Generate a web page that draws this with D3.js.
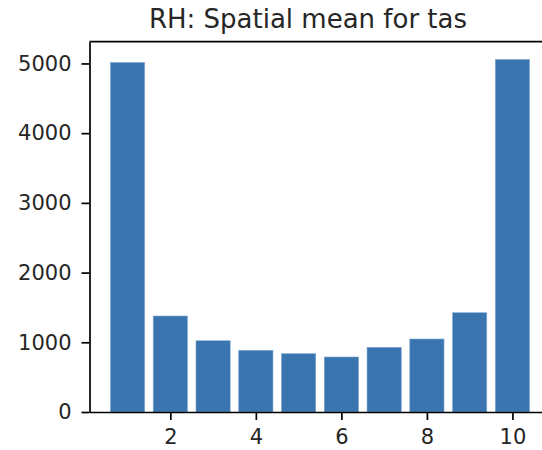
<!DOCTYPE html>
<html>
<head>
<meta charset="utf-8">
<script src="https://cdn.jsdelivr.net/npm/d3@7"></script>
<style>
  html, body { margin: 0; padding: 0; background: #fff; }
  svg { display: block; }
  text { font-family: "DejaVu Sans", sans-serif; fill: #262626; }
</style>
</head>
<body>
<svg id="chart" width="542" height="450"></svg>
<script>
const categories = [1, 2, 3, 4, 5, 6, 7, 8, 9, 10];
const values = [5014, 1377, 1022, 885, 836, 789, 928, 1047, 1424, 5057];
const xTicks = [2, 4, 6, 8, 10];
const yTicks = [0, 1000, 2000, 3000, 4000, 5000];
const title = "RH: Spatial mean for tas";

const svg = d3.select("#chart");
const plotLeft = 89.5, plotRight = 550.5, plotTop = 41.7, plotBottom = 412;

const x = d3.scaleLinear().domain([0.11, 10.89]).range([plotLeft, plotRight]);
const y = d3.scaleLinear().domain([0, 5312]).range([plotBottom, plotTop]);
const barW = x(0.8) - x(0);

svg.append("g").selectAll("rect")
  .data(categories)
  .join("rect")
  .attr("x", (d) => x(d - 0.4))
  .attr("width", barW)
  .attr("y", (d, i) => y(values[i]))
  .attr("height", (d, i) => y(0) - y(values[i]))
  .attr("fill", "#3a75b0")
  .attr("stroke", "#7fa6d2")
  .attr("stroke-width", 0.6);

// frame
const frame = svg.append("g").attr("stroke", "#000").attr("stroke-width", 1.7).attr("fill", "none");
frame.append("line").attr("x1", plotLeft).attr("x2", plotRight).attr("y1", plotTop).attr("y2", plotTop);
frame.append("line").attr("x1", plotRight).attr("x2", plotRight).attr("y1", plotTop).attr("y2", plotBottom);

const yAxis = svg.append("g")
  .attr("transform", `translate(${plotLeft},0)`)
  .call(d3.axisLeft(y).tickValues(yTicks).tickFormat(d3.format("d")).tickSize(8).tickPadding(10).tickSizeOuter(0));
const xAxis = svg.append("g")
  .attr("transform", `translate(0,${plotBottom})`)
  .call(d3.axisBottom(x).tickValues(xTicks).tickFormat(d3.format("d")).tickSize(8).tickPadding(9).tickSizeOuter(0));

[yAxis, xAxis].forEach((g) => {
  g.select(".domain").attr("stroke", "#000").attr("stroke-width", 1.7);
  g.selectAll(".tick line").attr("stroke", "#000").attr("stroke-width", 1.7);
  g.selectAll(".tick text").attr("font-size", 21).attr("font-family", "DejaVu Sans, sans-serif").attr("fill", "#262626");
});

svg.append("text")
  .attr("x", (plotLeft + plotRight) / 2 - 12)
  .attr("y", 28)
  .attr("text-anchor", "middle")
  .attr("font-size", 26)
  .text(title);
</script>
</body>
</html>
